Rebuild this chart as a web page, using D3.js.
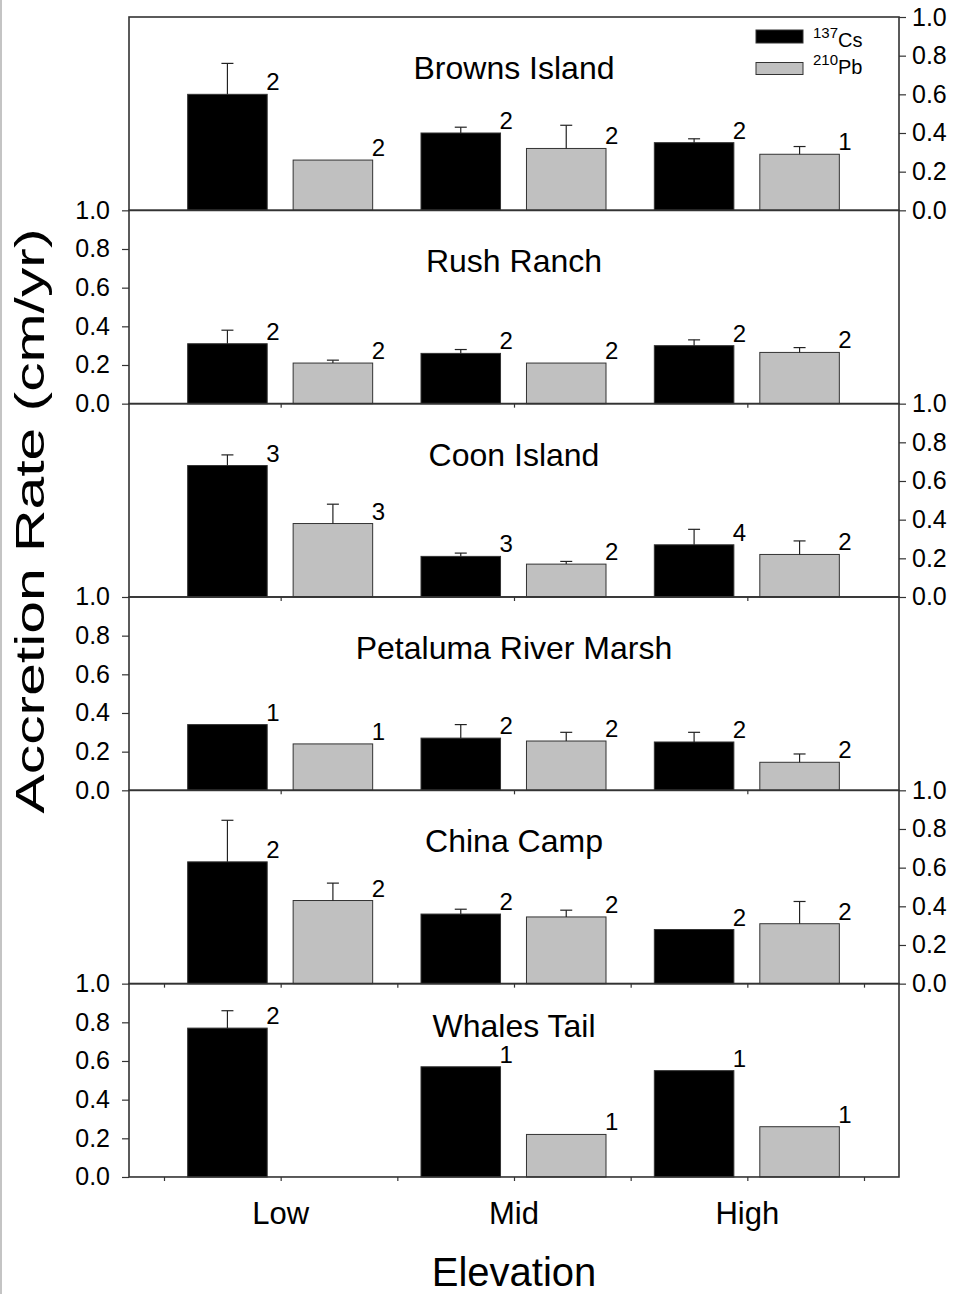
<!DOCTYPE html>
<html>
<head>
<meta charset="utf-8">
<script src="https://cdn.jsdelivr.net/npm/d3@7"></script>
<style>
  html, body { margin: 0; padding: 0; background: #fff; }
  svg { display: block; }
  text { font-family: "Liberation Sans", Arial, Helvetica, sans-serif; fill: #000; }
</style>
</head>
<body>
<div id="chart"></div>
<script>
// Marsh sites, top to bottom
const sites = ["Browns Island", "Rush Ranch", "Coon Island", "Petaluma River Marsh", "China Camp", "Whales Tail"];
const elevations = ["Low", "Mid", "High"];
const isotopes = ["137Cs", "210Pb"];

// Mean accretion rate (cm/yr) per site, by elevation (Low, Mid, High)
const cs137 = [
  [0.60, 0.40, 0.35],
  [0.31, 0.26, 0.30],
  [0.68, 0.21, 0.27],
  [0.34, 0.27, 0.25],
  [0.63, 0.36, 0.28],
  [0.77, 0.57, 0.55]
];
const pb210 = [
  [0.26, 0.32, 0.29],
  [0.21, 0.21, 0.265],
  [0.38, 0.17, 0.22],
  [0.24, 0.255, 0.145],
  [0.43, 0.345, 0.31],
  [null, 0.22, 0.26]
];
// Standard error (upper whisker length), null where none is shown
const cs137Err = [
  [0.16, 0.03, 0.02],
  [0.07, 0.02, 0.03],
  [0.055, 0.017, 0.08],
  [null, 0.07, 0.05],
  [0.215, 0.025, null],
  [0.09, null, null]
];
const pb210Err = [
  [null, 0.12, 0.04],
  [0.015, null, 0.025],
  [0.10, 0.014, 0.07],
  [null, 0.045, 0.043],
  [0.09, 0.035, 0.115],
  [null, null, null]
];
// Number of cores behind each mean
const cs137N = [
  [2, 2, 2],
  [2, 2, 2],
  [3, 3, 4],
  [1, 2, 2],
  [2, 2, 2],
  [2, 1, 1]
];
const pb210N = [
  [2, 2, 1],
  [2, 2, 2],
  [3, 2, 2],
  [1, 2, 2],
  [2, 2, 2],
  [null, 1, 1]
];
const yTicks = [0, 0.2, 0.4, 0.6, 0.8, 1.0];

const W = 955, H = 1294;
const plotLeft = 129, plotRight = 899, plotTop = 17, panelH = 193.33;
const fills = { "137Cs": "#000000", "210Pb": "#c0c0c0" };
// baseline offset of each site name below its panel top
const titleOffsets = [62, 62, 62, 62, 62, 53];

const svg = d3.select("#chart").append("svg")
  .attr("width", W).attr("height", H)
  .attr("viewBox", `0 0 ${W} ${H}`);

// thin page edge on the left
svg.append("line").attr("x1", 1).attr("x2", 1).attr("y1", 0).attr("y2", H)
  .attr("stroke", "#c4c4c4").attr("stroke-width", 2);

// elevation position (1 = Low, 2 = Mid, 3 = High)
const x = d3.scaleLinear().domain([0.35, 3.65]).range([plotLeft, plotRight]);
// offset of each isotope bar inside a group, in pixels
const xSub = d3.scaleBand().domain(isotopes).range([-93, 92]).paddingInner(0.246);

// bottom-of-panel tick positions
const groupTicks = [1, 2, 3];
const halfTicks = [0.5, 1, 1.5, 2, 2.5, 3, 3.5];
const xTickSets = [[], groupTicks, groupTicks, groupTicks, halfTicks, halfTicks];

sites.forEach((site, si) => {
  const y0 = plotTop + si * panelH;
  const y = d3.scaleLinear().domain([0, 1]).range([y0 + panelH, y0]);
  const g = svg.append("g").attr("class", "panel");

  const rows = elevations.map((e, ei) => [
    { iso: "137Cs", ei, v: cs137[si][ei], err: cs137Err[si][ei], n: cs137N[si][ei] },
    { iso: "210Pb", ei, v: pb210[si][ei], err: pb210Err[si][ei], n: pb210N[si][ei] }
  ]).flat().filter(d => d.v != null);

  const cx = d => x(d.ei + 1) + xSub(d.iso) + xSub.bandwidth() / 2;

  // bars
  g.selectAll("rect.bar").data(rows).join("rect")
    .attr("class", "bar")
    .attr("x", d => x(d.ei + 1) + xSub(d.iso))
    .attr("width", xSub.bandwidth())
    .attr("y", d => y(d.v))
    .attr("height", d => y(0) - y(d.v))
    .attr("fill", d => fills[d.iso])
    .attr("stroke", "#333")
    .attr("stroke-width", 1);

  // upper error whiskers
  const eb = g.selectAll("g.err").data(rows.filter(d => d.err != null)).join("g").attr("class", "err");
  eb.append("line")
    .attr("x1", cx).attr("x2", cx)
    .attr("y1", d => y(d.v)).attr("y2", d => y(d.v + d.err))
    .attr("stroke", "#222").attr("stroke-width", 1.2);
  eb.append("line")
    .attr("x1", d => cx(d) - 6).attr("x2", d => cx(d) + 6)
    .attr("y1", d => y(d.v + d.err)).attr("y2", d => y(d.v + d.err))
    .attr("stroke", "#222").attr("stroke-width", 1.2);

  // sample counts beside each bar
  g.selectAll("text.n").data(rows.filter(d => d.n != null)).join("text")
    .attr("class", "n")
    .attr("x", d => x(d.ei + 1) + xSub(d.iso) + xSub.bandwidth() - 1)
    .attr("y", d => y(d.v) - 4)
    .attr("font-size", 24)
    .text(d => d.n);

  // site name
  g.append("text")
    .attr("x", x(2)).attr("y", y0 + titleOffsets[si])
    .attr("text-anchor", "middle")
    .attr("font-size", 32)
    .text(site);

  // frame
  g.append("rect")
    .attr("x", plotLeft).attr("y", y0)
    .attr("width", plotRight - plotLeft).attr("height", panelH)
    .attr("fill", "none").attr("stroke", "#333").attr("stroke-width", 1.6);

  // x ticks under the panel
  const xAxis = g.append("g").attr("transform", `translate(0,${y0 + panelH})`)
    .call(d3.axisBottom(x).tickValues(xTickSets[si]).tickSize(4).tickFormat(""));
  xAxis.select(".domain").remove();
  xAxis.selectAll(".tick line").attr("stroke", "#333").attr("stroke-width", 1.2);

  // y axis alternates right / left
  const onRight = si % 2 === 0;
  const axis = (onRight ? d3.axisRight(y) : d3.axisLeft(y))
    .tickValues(yTicks).tickSize(7).tickPadding(onRight ? 6 : 12)
    .tickFormat(d3.format(".1f"));
  const ya = g.append("g")
    .attr("transform", `translate(${onRight ? plotRight : plotLeft},0)`)
    .call(axis);
  ya.select(".domain").remove();
  ya.selectAll(".tick line").attr("stroke", "#333").attr("stroke-width", 1.2);
  ya.selectAll(".tick text")
    .attr("font-size", 25)
    .attr("font-family", "'Liberation Sans', Arial, sans-serif")
    .attr("fill", "#000");
});

// elevation labels
svg.append("g").selectAll("text").data(elevations).join("text")
  .attr("x", (d, i) => x(i + 1))
  .attr("y", 1224)
  .attr("text-anchor", "middle")
  .attr("font-size", 31)
  .text(d => d);

// axis titles
svg.append("text")
  .attr("x", 514).attr("y", 1286)
  .attr("text-anchor", "middle")
  .attr("font-size", 40)
  .text("Elevation");

svg.append("text")
  .attr("transform", "translate(44,521) rotate(-90)")
  .attr("text-anchor", "middle")
  .attr("font-size", 40)
  .attr("textLength", 585)
  .attr("lengthAdjust", "spacingAndGlyphs")
  .text("Accretion Rate (cm/yr)");

// legend
const legend = svg.append("g");
const legendRows = [
  { iso: "137Cs", mass: "137", el: "Cs", y: 30, h: 13, base: 47 },
  { iso: "210Pb", mass: "210", el: "Pb", y: 62.5, h: 12, base: 74 }
];
legend.selectAll("rect").data(legendRows).join("rect")
  .attr("x", 756).attr("y", d => d.y)
  .attr("width", 47).attr("height", d => d.h)
  .attr("fill", d => fills[d.iso])
  .attr("stroke", "#333").attr("stroke-width", 1);
const lt = legend.selectAll("text").data(legendRows).join("text")
  .attr("x", 813).attr("y", d => d.base);
lt.append("tspan").attr("font-size", 15).attr("dy", -9).text(d => d.mass);
lt.append("tspan").attr("font-size", 20).attr("dy", 9).text(d => d.el);
</script>
</body>
</html>
